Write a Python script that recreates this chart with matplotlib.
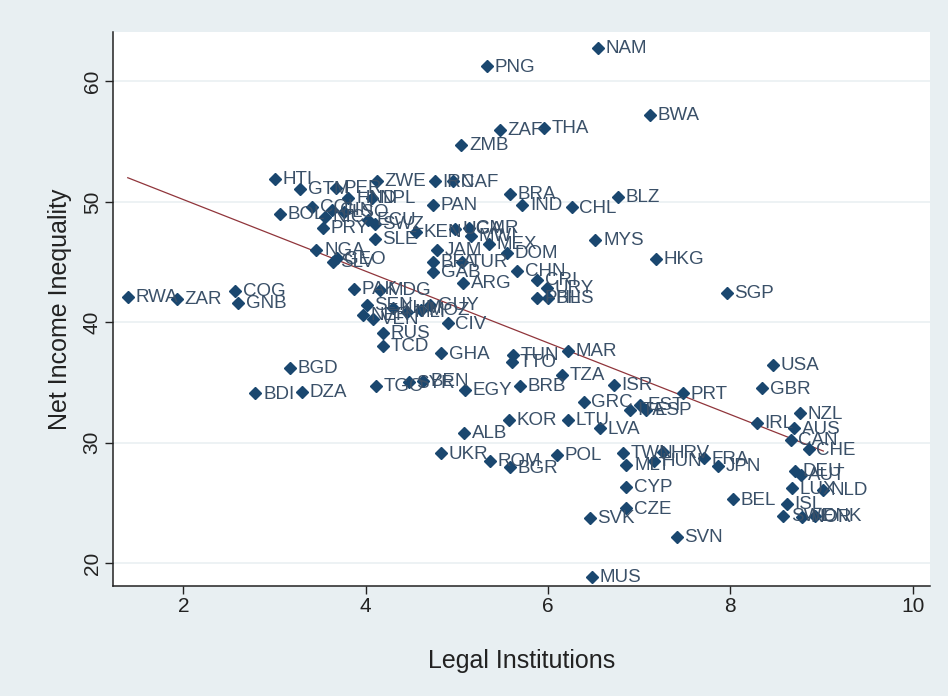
import numpy as np
import matplotlib
matplotlib.use('Agg')
import matplotlib.pyplot as plt

# country codes, legal institutions score, net income inequality
codes = ['NAM', 'PNG', 'BWA', 'ZAF', 'THA', 'ZMB', 'HTI', 'GTM', 'PER', 'ZWE',
         'IRN', 'CAF', 'NPL', 'HND', 'BRA', 'BLZ', 'COL', 'BOL', 'PAN', 'IND',
         'CHL', 'NIC', 'GIN', 'LSO', 'ECU', 'SWZ', 'PRY', 'SLE', 'KEN', 'UGA',
         'CMR', 'MWI', 'MEX', 'MYS', 'NGA', 'JAM', 'DOM', 'BFA', 'TUR', 'HKG',
         'SLV', 'GEO', 'GAB', 'CHN', 'ARG', 'CRI', 'URY', 'PHL', 'BHS', 'SGP',
         'RWA', 'ZAR', 'COG', 'GNB', 'PAK', 'MDG', 'SEN', 'KHM', 'MLI', 'MOZ',
         'GUY', 'NER', 'VEN', 'CIV', 'RUS', 'TCD', 'GHA', 'MAR', 'TUN', 'TTO',
         'USA', 'BGD', 'TZA', 'SYR', 'BEN', 'TGO', 'ISR', 'BRB', 'GBR', 'EGY',
         'DZA', 'BDI', 'PRT', 'GRC', 'EST', 'ITA', 'ESP', 'NZL', 'KOR', 'LTU',
         'IRL', 'AUS', 'LVA', 'ALB', 'CAN', 'CHE', 'UKR', 'HRV', 'TWN', 'POL',
         'FRA', 'HUN', 'ROM', 'MLT', 'JPN', 'BGR', 'DEU', 'AUT', 'CYP', 'LUX',
         'NLD', 'BEL', 'ISL', 'CZE', 'SVK', 'SWE', 'NOR', 'DNK', 'SVN', 'MUS']

legal = [6.55, 5.33, 7.12, 5.47, 5.96, 5.05, 3.00, 3.28, 3.67, 4.12,
         4.76, 4.96, 4.07, 3.81, 5.58, 6.77, 3.41, 3.06, 4.74, 5.72,
         6.26, 3.55, 3.63, 3.76, 4.03, 4.10, 3.53, 4.10, 4.55, 4.98,
         5.13, 5.15, 5.35, 6.52, 3.46, 4.78, 5.55, 4.74, 5.06, 7.18,
         3.64, 3.68, 4.74, 5.66, 5.07, 5.88, 5.99, 5.88, 6.00, 7.96,
         1.39, 1.93, 2.57, 2.60, 3.87, 4.16, 4.01, 4.30, 4.45, 4.61,
         4.71, 3.97, 4.08, 4.90, 4.19, 4.19, 4.83, 6.22, 5.62, 5.60,
         8.47, 3.17, 6.15, 4.47, 4.63, 4.11, 6.72, 5.69, 8.35, 5.09,
         3.30, 2.79, 7.48, 6.39, 7.01, 6.90, 7.08, 8.76, 5.57, 6.22,
         8.29, 8.70, 6.57, 5.08, 8.66, 8.86, 4.83, 7.26, 6.82, 6.10,
         7.71, 7.16, 5.36, 6.86, 7.87, 5.58, 8.71, 8.77, 6.86, 8.68,
         9.02, 8.03, 8.62, 6.86, 6.46, 8.58, 8.79, 8.93, 7.41, 6.48]

inequality = [62.8, 61.25, 57.23, 55.98, 56.13, 54.74, 51.91, 51.08, 51.19, 51.75,
              51.69, 51.69, 50.3, 50.31, 50.64, 50.44, 49.6, 48.98, 49.75, 49.75,
              49.53, 48.78, 49.33, 49.19, 48.5, 48.2, 47.86, 46.93, 47.48, 47.76,
              47.81, 47.17, 46.48, 46.84, 46.0, 46.0, 45.73, 45.04, 45.0, 45.24,
              45.04, 45.3, 44.2, 44.27, 43.24, 43.5, 42.83, 42.0, 42.0, 42.46,
              42.08, 41.91, 42.63, 41.58, 42.77, 42.69, 41.44, 41.16, 40.88, 41.02,
              41.44, 40.6, 40.25, 39.9, 39.09, 38.03, 37.42, 37.64, 37.28, 36.73,
              36.45, 36.18, 35.62, 35.0, 35.15, 34.73, 34.79, 34.73, 34.51, 34.37,
              34.23, 34.1, 34.1, 33.4, 33.13, 32.71, 32.71, 32.43, 31.9, 31.9,
              31.65, 31.19, 31.19, 30.82, 30.22, 29.44, 29.11, 29.2, 29.16, 28.97,
              28.7, 28.5, 28.5, 28.14, 28.05, 27.95, 27.66, 27.3, 26.3, 26.2,
              26.06, 25.3, 24.9, 24.54, 23.79, 23.9, 23.84, 23.9, 22.18, 18.85]

x_ticks = [2, 4, 6, 8, 10]
y_ticks = [20, 30, 40, 50, 60]

navy = '#1A476F'
label_color = '#3A5068'
outer_bg = '#E8EFF2'

plt.rcParams['font.family'] = ['Liberation Sans', 'DejaVu Sans']

fig = plt.figure(figsize=(9.48, 6.96), dpi=100, facecolor=outer_bg)
ax = fig.add_axes([0.119, 0.158, 0.862, 0.796])
ax.set_facecolor('white')

# grid lines at the y ticks
for yt in y_ticks:
    ax.axhline(yt, color='#EAF0F2', linewidth=1.2, zorder=0)

ax.plot(legal, inequality, linestyle='none', marker='D', markersize=6,
        color=navy, zorder=3)
for code, xv, yv in zip(codes, legal, inequality):
    ax.annotate(code, (xv, yv), xytext=(5.5, -0.5), textcoords='offset points',
                va='center', ha='left', fontsize=13.5, color=label_color, zorder=4)

# linear fit like Stata's lfit
slope, intercept = np.polyfit(legal, inequality, 1)
xs = np.array([min(legal), max(legal)])
ax.plot(xs, intercept + slope * xs, color='#90353B', linewidth=0.9, zorder=2)

ax.set_xlim(1.226, 10.19)
ax.set_ylim(18.1, 64.1)
ax.set_xticks(x_ticks)
ax.set_yticks(y_ticks)
ax.tick_params(axis='both', direction='out', length=6, width=1, color='#222222',
               labelsize=15, labelcolor='#222222', pad=2)
for lbl in ax.get_yticklabels():
    lbl.set_rotation(90)
    lbl.set_va('center')

for side in ['top', 'right']:
    ax.spines[side].set_visible(False)
for side in ['left', 'bottom']:
    ax.spines[side].set_color('#222222')
    ax.spines[side].set_linewidth(1.1)

ax.set_xlabel('Legal Institutions', fontsize=18, color='#222222', labelpad=24)
ax.set_ylabel('Net Income Inequality', fontsize=18, color='#222222', labelpad=8)

fig.savefig('out.png', dpi=100, facecolor=outer_bg)
